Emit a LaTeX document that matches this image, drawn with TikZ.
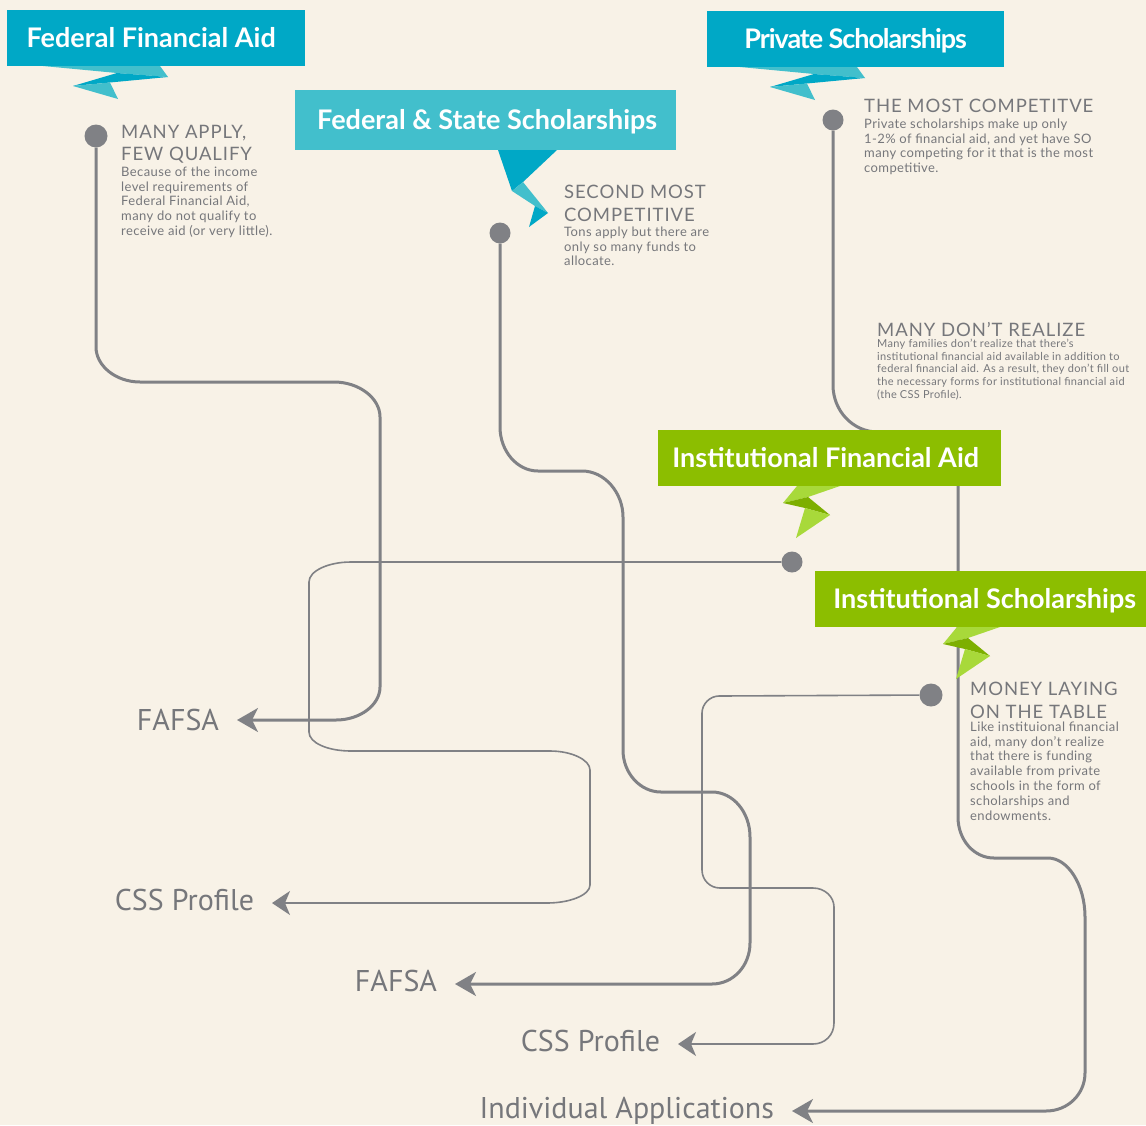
\documentclass[tikz,border=0pt]{standalone}
\usepackage{fontspec}
\usetikzlibrary{arrows.meta}
\newfontfamily\bannerfont{Lato Bold}
\newfontfamily\bannerfonttight{Lato Bold}[LetterSpace=-4]
\newfontfamily\headfont{Lato}[LetterSpace=5]
\newfontfamily\bodyfont{Lato}[LetterSpace=3]
\newfontfamily\labfont{PT Sans}
\definecolor{bg}{HTML}{F8F2E7}
\definecolor{tealD}{HTML}{00A8C6}
\definecolor{tealL}{HTML}{42BFCC}
\definecolor{grnD}{HTML}{8CBE00}
\definecolor{grnL}{HTML}{A8D93A}
\definecolor{grnM}{HTML}{7DAF00}
\definecolor{linec}{HTML}{808185}
\definecolor{txt}{HTML}{76777B}
\tikzset{
  banner/.style={anchor=north west, inner sep=0pt, text=white,
    font=\bannerfont\fontsize{27}{31}\selectfont, text height=19.4pt, text depth=0pt},
  head/.style={anchor=north west, inner sep=0pt, align=left, text=txt,
    font=\headfont\fontsize{18.5}{22.5}\selectfont},
  body/.style={anchor=north west, inner sep=0pt, align=left, text=txt,
    font=\bodyfont\fontsize{13}{14.8}\selectfont},
  smallbody/.style={body, font=\bodyfont\fontsize{11}{12.6}\selectfont},
  lab/.style={anchor=east, inner sep=0pt, outer xsep=18pt, text=txt,
    font=\labfont\fontsize{30}{36}\selectfont, text height=14pt, text depth=0pt},
  dot/.style={circle, fill=linec, inner sep=0pt, minimum size=#1},
  thickpath/.style={draw=linec, line width=3pt,
    -{Stealth[length=21pt, width=24pt, inset=6pt]}},
  thinpath/.style={draw=linec, line width=1.6pt,
    -{Stealth[length=18pt, width=24pt, inset=5pt]}},
}
\begin{document}
\begin{tikzpicture}[x=1pt, y=-1pt]
\fill[bg] (0,0) rectangle (1146,1125);
\useasboundingbox (0,0) rectangle (1146,1125);

% dots
\node[dot=23pt] (d1) at (96,136) {};
\node[dot=21pt] (d2) at (500,233) {};
\node[dot=21pt] (d3) at (833,120) {};
\node[dot=21pt] (d4) at (792,562) {};
\node[dot=23pt] (d5) at (931,695) {};

% end labels
\node[lab, text height=21pt] (f1) at (237,720) {FAFSA};
\node[lab] (c1) at (272,903) {CSS Profile};
\node[lab] (f2) at (455,984) {FAFSA};
\node[lab] (c2) at (678,1044) {CSS Profile};
\node[lab] (ind) at (792,1111) {Individual Applications};

% connectors
\draw[thickpath] (d1) -- (96,347) .. controls (96,366) and (116,382) .. (140,382)
  -- (334,382) .. controls (359,382) and (380,398) .. (380,417)
  -- (380,687) .. controls (380,705) and (360,720) .. (336,720) -- (f1.east);
\draw[thickpath] (d2) -- (500,427) .. controls (500,451) and (517,471) .. (538,471)
  -- (582,471) .. controls (605,471) and (623,493) .. (623,517)
  -- (623,750) .. controls (623,773) and (640,792) .. (661,792)
  -- (712,792) .. controls (733,792) and (750,812) .. (750,837)
  -- (750,943) .. controls (750,966) and (733,984) .. (712,984) -- (f2.east);
\draw[thinpath] (d4) -- (351,562) .. controls (328,562) and (309,571) .. (309,582)
  -- (309,732) .. controls (309,743) and (328,751) .. (351,751)
  -- (550,751) .. controls (572,751) and (590,760) .. (590,770)
  -- (590,885) .. controls (590,895) and (570,903) .. (547,903) -- (c1.east);
\draw[thinpath] (d5) -- (719,696) .. controls (710,696) and (702,704) .. (702,713)
  -- (702,870) .. controls (702,880) and (710,888) .. (720,888)
  -- (813,888) .. controls (825,888) and (834,897) .. (834,907)
  -- (834,1023) .. controls (834,1035) and (825,1044) .. (813,1044) -- (c2.east);
\draw[thickpath] (d3) -- (833,385) .. controls (833,411) and (853,432) .. (878,432)
  -- (915,432) .. controls (939,432) and (958,451) .. (958,475)
  -- (958,817) .. controls (958,840) and (974,858) .. (994,858)
  -- (1048,858) .. controls (1068,858) and (1085,885) .. (1085,917)
  -- (1085,1073) .. controls (1085,1094) and (1068,1111) .. (1046,1111) -- (ind.east);

% ribbons
\fill[tealL] (43,66) -- (160,66) -- (168,77) -- (117,73) -- cycle;
\fill[tealD] (117,73) -- (168,77) -- (73,86) -- cycle;
\fill[tealL] (73,86) -- (110,82.5) -- (118,99) -- cycle;
\begin{scope}[shift={(697,1)}]
\fill[tealL] (43,66) -- (160,66) -- (168,77) -- (117,73) -- cycle;
\fill[tealD] (117,73) -- (168,77) -- (73,86) -- cycle;
\fill[tealL] (73,86) -- (110,82.5) -- (118,99) -- cycle;
\end{scope}
\fill[tealD] (498,150) -- (557,150) -- (523,182) -- (512,191) -- cycle;
\fill[tealL] (512,191) -- (523,182) -- (548,213) -- (535,206) -- cycle;
\fill[tealD] (535,206) -- (548,213) -- (529,227) -- cycle;
\fill[grnL] (797,486) -- (840,486) -- (808,497) -- (783,503) -- cycle;
\fill[grnM] (783,503) -- (808,497) -- (830,515) -- (805,508) -- cycle;
\fill[grnL] (805,508) -- (830,515) -- (796,538) -- cycle;
\begin{scope}[shift={(160,141)}]
\fill[grnL] (797,486) -- (840,486) -- (808,497) -- (783,503) -- cycle;
\fill[grnM] (783,503) -- (808,497) -- (830,515) -- (805,508) -- cycle;
\fill[grnL] (805,508) -- (830,515) -- (796,538) -- cycle;
\end{scope}

% banners
\node[banner, fill=tealD, minimum width=298pt, minimum height=56pt] (b1) at (7,10) {Federal Financial Aid\hspace*{10pt}};
\node[banner, fill=tealL, minimum width=381pt, minimum height=60pt] (b2) at (295,90) {\hspace*{3pt}Federal \& State Scholarships};
\node[banner, fill=tealD, minimum width=297pt, minimum height=56pt,
  font=\bannerfonttight\fontsize{27}{31}\selectfont] (b3) at (707,11) {Private Scholarships};
\node[banner, fill=grnD, minimum width=343pt, minimum height=56pt] (b4) at (658,430) {Institutional Financial Aid\hspace*{8pt}};
\node[banner, fill=grnD, minimum width=331pt, minimum height=56pt] (b5) at (815,571) {\hspace*{8pt}Institutional Scholarships};

% text blocks
\node[head] (h1) at (121,125) {MANY APPLY,\\FEW QUALIFY};
\node[body] (t1) at (121,166.5) {Because of the income\\level requirements of\\Federal Financial Aid,\\many do not qualify to\\receive aid (or very little).};
\node[head] (h2) at (564,185) {SECOND MOST\\COMPETITIVE};
\node[body] (t2) at (564,226.5) {Tons apply but there are\\only so many funds to\\allocate.};
\node[head] (h3) at (864,99) {THE MOST COMPETITVE};
\node[body] (t3) at (864,118.5) {Private scholarships make up only\\1-2\% of financial aid, and yet have SO\\many competing for it that is the most\\competitive.};
\node[head] (h4) at (877,322) {MANY DON’T REALIZE};
\node[smallbody] (t4) at (877,339) {Many families don’t realize that there’s\\institutional financial aid available in addition to\\federal financial aid. As a result, they don’t fill out\\the necessary forms for institutional financial aid\\(the CSS Profile).};
\node[head] (h5) at (970,682) {MONEY LAYING\\ON THE TABLE};
\node[body] (t5) at (970,721.5) {Like instituional financial\\aid, many don’t realize\\that there is funding\\available from private\\schools in the form of\\scholarships and\\endowments.};
\end{tikzpicture}
\end{document}
